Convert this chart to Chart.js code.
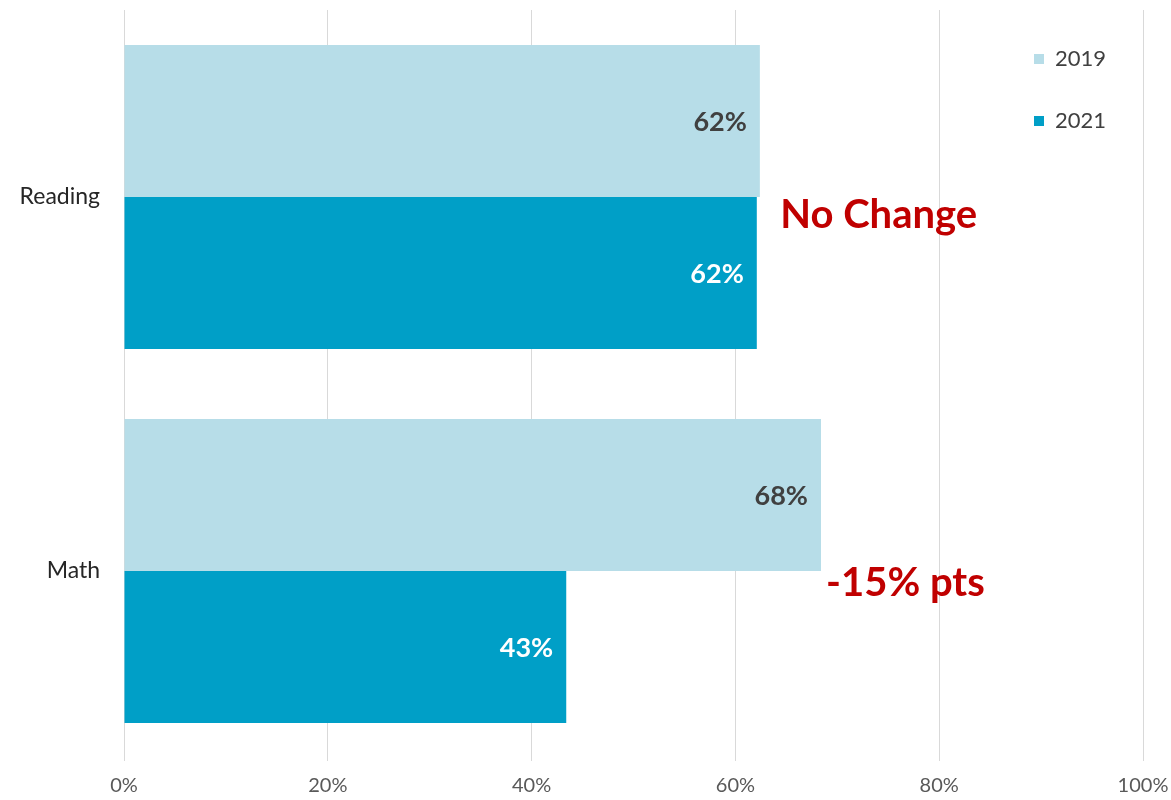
<!DOCTYPE html>
<html>
<head>
<meta charset="utf-8">
<script src="https://cdn.jsdelivr.net/npm/chart.js@4.4.1/dist/chart.umd.min.js"></script>
<style>
  html, body { margin: 0; padding: 0; background: #fff; }
  #wrap { width: 1171px; height: 800px; }
</style>
</head>
<body>
<div id="wrap"><canvas id="scoreChart"></canvas></div>
<script>
// chart data
const subjects = ['Reading', 'Math'];
const years = ['2019', '2021'];
const scores2019 = [62.4, 68.4];
const scores2021 = [62.1, 43.4];
const yearColors = ['#b7dde8', '#009fc7'];
const labelColors = ['#404040', '#ffffff'];
const xTicks = [0, 20, 40, 60, 80, 100];

// callouts next to each subject
const notes = ['No Change', '-15% pts'];
const noteX = [64.4, 68.9];
const noteDy = [18, 12];

const FONT = 'Lato, "Open Sans", sans-serif';

// bold value labels inside the end of each bar
const valueLabels = {
    id: 'valueLabels',
    afterDatasetsDraw(chart) {
        const ctx = chart.ctx;
        ctx.save();
        ctx.font = 'bold 27px ' + FONT;
        ctx.textAlign = 'right';
        ctx.textBaseline = 'middle';
        chart.data.datasets.forEach((ds, i) => {
            chart.getDatasetMeta(i).data.forEach((bar, j) => {
                ctx.fillStyle = labelColors[i];
                ctx.fillText(Math.round(ds.data[j]) + '%', bar.x - 13, bar.y + 1);
            });
        });
        ctx.restore();
    }
};

// red annotations
const callouts = {
    id: 'callouts',
    afterDatasetsDraw(chart) {
        const ctx = chart.ctx;
        const xs = chart.scales.x, ys = chart.scales.y;
        ctx.save();
        ctx.font = 'bold 40px ' + FONT;
        ctx.fillStyle = '#c00000';
        ctx.textAlign = 'left';
        ctx.textBaseline = 'middle';
        notes.forEach((t, i) => {
            ctx.fillText(t, xs.getPixelForValue(noteX[i]), ys.getPixelForValue(i) + noteDy[i]);
        });
        ctx.restore();
    }
};

// legend stacked in the top right corner of the plot
const cornerLegend = {
    id: 'cornerLegend',
    afterDraw(chart) {
        const ctx = chart.ctx;
        const left = chart.chartArea.right - 109;
        ctx.save();
        ctx.font = '22px ' + FONT;
        ctx.textBaseline = 'middle';
        chart.data.datasets.forEach((ds, i) => {
            const y = chart.chartArea.top + 49 + i * 62;
            ctx.fillStyle = ds.backgroundColor;
            ctx.fillRect(left, y - 5, 10, 10);
            ctx.fillStyle = '#404040';
            ctx.fillText(ds.label, left + 21, y);
        });
        ctx.restore();
    }
};

const ctx = document.getElementById('scoreChart').getContext('2d');
new Chart(ctx, {
    type: 'bar',
    data: {
        labels: subjects,
        datasets: [
            { label: years[0], data: scores2019, backgroundColor: yearColors[0] },
            { label: years[1], data: scores2021, backgroundColor: yearColors[1] }
        ]
    },
    options: {
        indexAxis: 'y',
        responsive: true,
        maintainAspectRatio: false,
        animation: false,
        layout: { padding: { top: 10, right: 28, left: 0, bottom: 0 } },
        datasets: { bar: { categoryPercentage: 0.813, barPercentage: 1 } },
        plugins: {
            legend: { display: false },
            tooltip: { enabled: false }
        },
        scales: {
            x: {
                min: 0,
                max: 100,
                afterBuildTicks: s => { s.ticks = xTicks.map(v => ({ value: v })); },
                afterFit: s => { s.height = 42; s.paddingLeft = 0; s.paddingRight = 0; },
                border: { display: false },
                grid: { color: '#d9d9d9', drawTicks: true, tickLength: 3, tickColor: '#d9d9d9' },
                ticks: {
                    padding: 13,
                    color: '#595959',
                    font: { family: FONT, size: 20 },
                    callback: v => v + '%'
                }
            },
            y: {
                afterFit: s => { s.width = 124; s.paddingTop = 0; s.paddingBottom = 0; },
                border: { display: false },
                grid: { display: false },
                ticks: {
                    padding: 16,
                    color: '#262626',
                    font: { family: FONT, size: 23 }
                }
            }
        }
    },
    plugins: [valueLabels, callouts, cornerLegend]
});
</script>
</body>
</html>
